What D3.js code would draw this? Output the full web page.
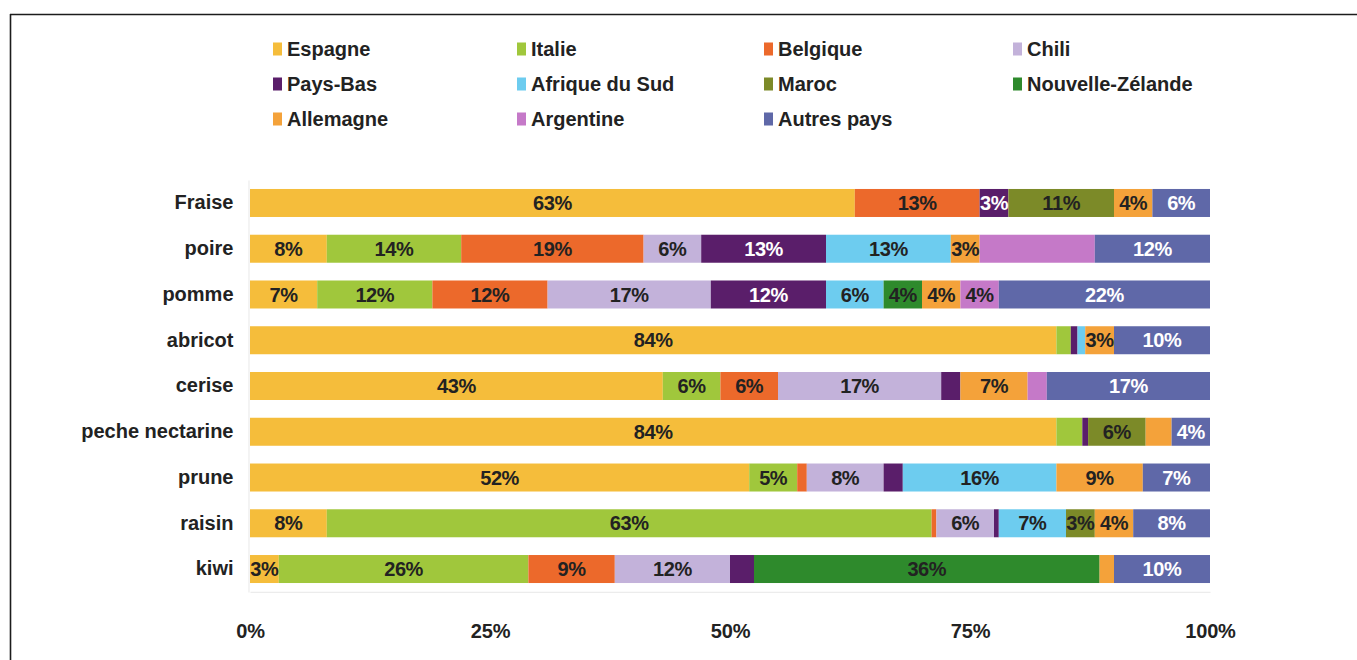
<!DOCTYPE html>
<html>
<head>
<meta charset="utf-8">
<script src="https://cdn.jsdelivr.net/npm/d3@7"></script>
<style>
  html, body { margin: 0; padding: 0; background: #ffffff; }
  svg { display: block; }
  text { font-family: "Liberation Sans", Arial, Helvetica, sans-serif; font-weight: bold; }
</style>
</head>
<body>
<svg id="chart" width="1357" height="660"></svg>
<script>
// Fruits (one bar each) and supplying countries (stacked segments, % share)
const fruits = ["Fraise", "poire", "pomme", "abricot", "cerise", "peche nectarine", "prune", "raisin", "kiwi"];

const countries = ["Espagne", "Italie", "Belgique", "Chili", "Pays-Bas", "Afrique du Sud",
                   "Maroc", "Nouvelle-Zélande", "Allemagne", "Argentine", "Autres pays"];
const countryColors = ["#f5bd3b", "#a0c73c", "#ec692b", "#c3b2da", "#5a1e6a", "#6dccef",
                       "#7c8a28", "#2e8a2c", "#f4a23a", "#c579c8", "#5f68a8"];
const labelColors = ["#222222", "#222222", "#222222", "#222222", "#ffffff", "#222222",
                     "#222222", "#222222", "#222222", "#222222", "#ffffff"];

// Share per fruit, in the order of `fruits`
const espagne         = [63,  8,  7, 84,   43, 84,   52,  8,   3];
const italie          = [ 0, 14, 12,  1.5,  6,  2.7,  5, 63,  26];
const belgique        = [13, 19, 12,  0,    6,  0,    1,  0.5, 9];
const chili           = [ 0,  6, 17,  0,   17,  0,    8,  6,  12];
const paysBas         = [ 3, 13, 12,  0.7,  2,  0.6,  2,  0.5, 2.5];
const afriqueDuSud    = [ 0, 13,  6,  0.8,  0,  0,   16,  7,   0];
const maroc           = [11,  0,  0,  0,    0,  6,    0,  3,   0];
const nouvelleZelande = [ 0,  0,  4,  0,    0,  0,    0,  0,  36];
const allemagne       = [ 4,  3,  4,  3,    7,  2.7,  9,  4,   1.5];
const argentine       = [ 0, 12,  4,  0,    2,  0,    0,  0,   0];
const autresPays      = [ 6, 12, 22, 10,   17,  4,    7,  8,  10];

const seriesValues = [espagne, italie, belgique, chili, paysBas, afriqueDuSud,
                      maroc, nouvelleZelande, allemagne, argentine, autresPays];

// Segments left without a value label
const unlabeledCells = [["poire", "Argentine"]];
const labelMin = 3;

const xTicks = [0, 25, 50, 75, 100];

// Table for d3.stack
const rows = fruits.map((f, i) => {
  const r = { fruit: f };
  countries.forEach((c, j) => { r[c] = seriesValues[j][i]; });
  return r;
});

const svg = d3.select("#chart");

// Outer frame (top and left rules)
svg.append("line").attr("x1", 10).attr("x2", 1357).attr("y1", 14.5).attr("y2", 14.5)
  .attr("stroke", "#1c1c1c").attr("stroke-width", 1.6);
svg.append("line").attr("x1", 10.5).attr("x2", 10.5).attr("y1", 14).attr("y2", 660)
  .attr("stroke", "#1c1c1c").attr("stroke-width", 1.6);

const x = d3.scaleLinear().domain([0, 100]).range([250, 1210]);
const y = d3.scaleBand().domain(fruits).range([180.1, 591.9]).paddingInner(0.388).paddingOuter(0.194);
const color = d3.scaleOrdinal().domain(countries).range(countryColors);
const textColor = d3.scaleOrdinal().domain(countries).range(labelColors);

const stacked = d3.stack().keys(countries)(rows);

const layers = svg.append("g").selectAll("g")
  .data(stacked).join("g")
  .attr("fill", d => color(d.key));

layers.selectAll("rect")
  .data(d => d.map(p => ({ key: d.key, p })))
  .join("rect")
  .attr("x", d => x(d.p[0]))
  .attr("y", d => y(d.p.data.fruit))
  .attr("width", d => Math.max(0, x(d.p[1]) - x(d.p[0])))
  .attr("height", y.bandwidth());

// Value labels
const isLabeled = (fruit, key, v) =>
  v >= labelMin && !unlabeledCells.some(([f, k]) => f === fruit && k === key);

const labelData = [];
stacked.forEach(layer => {
  layer.forEach(p => {
    const v = p[1] - p[0];
    if (isLabeled(p.data.fruit, layer.key, v)) {
      labelData.push({ key: layer.key, fruit: p.data.fruit, v, mid: (p[0] + p[1]) / 2 });
    }
  });
});

svg.append("g").selectAll("text")
  .data(labelData).join("text")
  .attr("x", d => x(d.mid))
  .attr("y", d => y(d.fruit) + y.bandwidth() / 2)
  .attr("dy", "0.36em")
  .attr("text-anchor", "middle")
  .attr("font-size", 20)
  .attr("letter-spacing", "-0.4")
  .attr("fill", d => textColor(d.key))
  .text(d => Math.round(d.v) + "%");

// Axes
const xAxis = svg.append("g")
  .attr("transform", `translate(0,${y.range()[1]})`)
  .call(d3.axisBottom(x).tickValues(xTicks).tickFormat(d => d + "%").tickSize(0).tickPadding(32));
xAxis.select(".domain").attr("stroke", "#ececec").attr("stroke-width", 1.2);
xAxis.selectAll("text").attr("font-size", 20).attr("letter-spacing", "-0.2").attr("fill", "#222")
  .attr("font-family", null);

const yAxis = svg.append("g")
  .attr("transform", `translate(${x(0) - 1.5},0)`)
  .call(d3.axisLeft(y).tickSize(0).tickPadding(15));
yAxis.select(".domain").attr("stroke", "#ececec").attr("stroke-width", 1.2);
yAxis.selectAll("text").attr("font-size", 20).attr("fill", "#222")
  .attr("font-family", null);

// Legend: three rows, four columns
const legendCols = [273, 517, 764, 1013];
const legendRows = [49, 84, 119];
const legend = svg.append("g").selectAll("g")
  .data(countries).join("g")
  .attr("transform", (d, i) => `translate(${legendCols[i % 4]},${legendRows[Math.floor(i / 4)]})`);
legend.append("rect")
  .attr("x", 0).attr("y", -6.5).attr("width", 9).attr("height", 13)
  .attr("fill", d => color(d));
legend.append("text")
  .attr("x", 14).attr("dy", "0.36em")
  .attr("font-size", 20).attr("fill", "#222")
  .text(d => d);
</script>
</body>
</html>
